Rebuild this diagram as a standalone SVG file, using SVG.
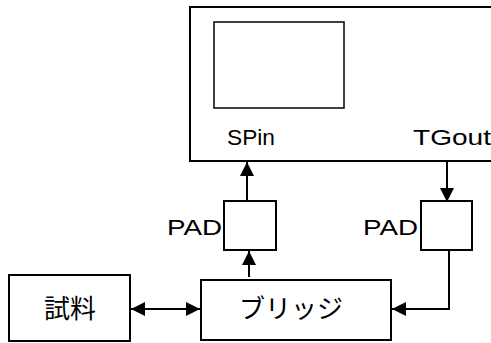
<svg xmlns="http://www.w3.org/2000/svg" width="491" height="343" viewBox="0 0 491 343">
<style>
.box{fill:#fff;stroke:#000;stroke-width:2}
.ln{fill:none;stroke:#000;stroke-width:2}
.lat{font-family:"Liberation Sans",Arial,sans-serif;font-size:22.5px;fill:#000}
.jp{font-family:"Noto Sans CJK JP",sans-serif;font-size:26px;fill:#000}
</style>
<defs>
<marker id="ah" viewBox="0 0 10 10" refX="10" refY="5" markerWidth="14" markerHeight="14" markerUnits="userSpaceOnUse" orient="auto-start-reverse">
<path d="M0,0 L10,5 L0,10 Z" fill="#000"/>
</marker>
</defs>
<g id="scope">
<rect class="box" x="190" y="7" width="310" height="154"/>
<rect class="box" x="214" y="22" width="130" height="86" style="stroke-width:1.5"/>
<text class="lat" x="227" y="145" textLength="48" lengthAdjust="spacingAndGlyphs">SPin</text>
<text class="lat" x="413" y="145" textLength="78" lengthAdjust="spacingAndGlyphs">TGout</text>
</g>
<g id="pad1">
<rect class="box" x="224" y="201" width="52" height="49"/>
<text class="lat" x="167" y="235" textLength="55" lengthAdjust="spacingAndGlyphs">PAD</text>
</g>
<g id="pad2">
<rect class="box" x="421" y="201" width="51" height="49"/>
<text class="lat" x="363" y="235" textLength="55" lengthAdjust="spacingAndGlyphs">PAD</text>
</g>
<g id="sample">
<rect class="box" x="9" y="275" width="121" height="66"/>
<text class="jp" x="70" y="318" text-anchor="middle">試料</text>
</g>
<g id="bridge">
<rect class="box" x="201" y="280" width="190" height="60"/>
<text class="jp" x="291" y="318" text-anchor="middle">ブリッジ</text>
</g>
<g id="connectors">
<line class="ln" x1="247" y1="201" x2="247" y2="162" marker-end="url(#ah)"/>
<line class="ln" x1="249" y1="277" x2="249" y2="251" marker-end="url(#ah)"/>
<line class="ln" x1="447" y1="161" x2="447" y2="202" marker-end="url(#ah)"/>
<polyline class="ln" points="449,250 449,309 392,309" marker-end="url(#ah)"/>
<line class="ln" x1="131" y1="309" x2="200" y2="309" marker-start="url(#ah)" marker-end="url(#ah)"/>
</g>
</svg>
